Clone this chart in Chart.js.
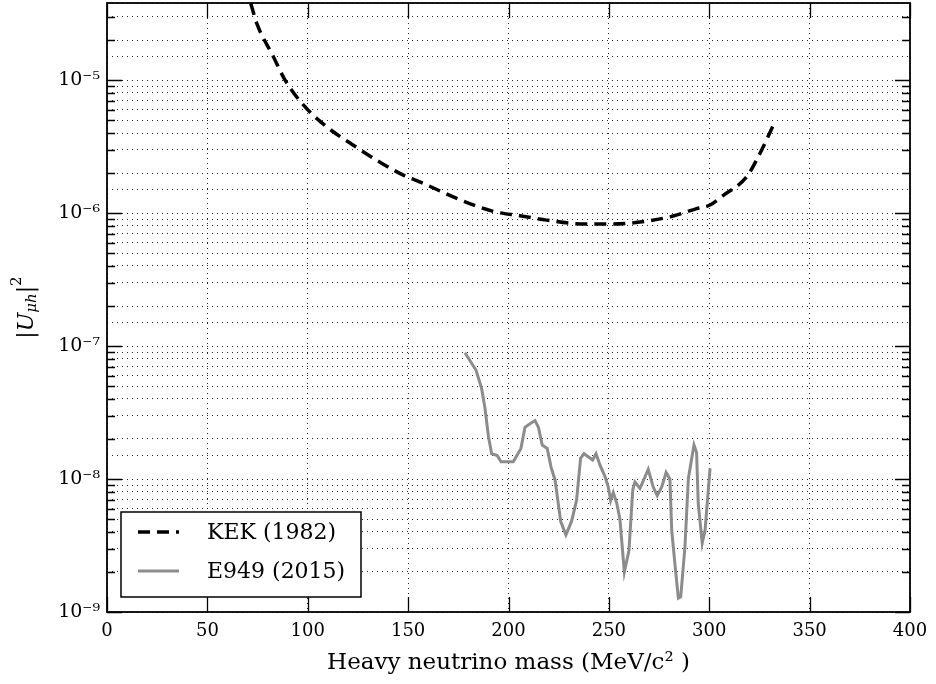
<!DOCTYPE html>
<html>
<head>
<meta charset="utf-8">
<script src="https://cdn.jsdelivr.net/npm/chart.js@4"></script>
<style>
  html, body { margin: 0; padding: 0; background: #fff; }
  #wrap { width: 936px; height: 684px; }
</style>
</head>
<body>
<div id="wrap"><canvas id="myChart"></canvas></div>
<script>
// KEK (1982) limit
const kekMass = [71.6, 74.6, 82.9, 88.7, 97.8, 109.4, 122.7, 136.8, 147.6, 157.6, 174.2, 192.4, 205.7, 219, 238.9, 252.2, 268.8, 282.1, 293.7, 300.4, 307, 318.6, 324.4, 332.3];
const kekU2 = [3.78e-5, 2.67e-5, 1.5e-5, 1.0e-5, 6.5e-6, 4.46e-6, 3.24e-6, 2.37e-6, 1.93e-6, 1.67e-6, 1.29e-6, 1.03e-6, 9.55e-7, 8.85e-7, 8.26e-7, 8.26e-7, 8.7e-7, 9.5e-7, 1.08e-6, 1.15e-6, 1.36e-6, 1.87e-6, 2.65e-6, 4.7e-6];

// E949 (2015) limit
const e949Mass = [178.3, 183.8, 186.6, 188.3, 190.0, 191.6, 194.4, 196.3, 202.4, 206.2, 208.2, 210.7, 213.2, 214.9, 216.8, 219.3, 221.2, 223.2, 226.0, 228.6, 231.4, 233.9, 235.9, 237.6, 241.9, 243.6, 245.6, 248.1, 249.7, 250.9, 252.2, 253.9, 255.5, 257.7, 260.0, 261.9, 263.0, 265.5, 269.6, 272.1, 274.1, 276.3, 278.5, 280.4, 281.3, 282.9, 284.6, 285.8, 287.9, 289.6, 292.4, 293.7, 294.5, 296.5, 297.9, 300.4];
const e949U2 = [8.9e-8, 6.6e-8, 4.8e-8, 3.4e-8, 2.1e-8, 1.55e-8, 1.5e-8, 1.35e-8, 1.35e-8, 1.7e-8, 2.45e-8, 2.6e-8, 2.75e-8, 2.45e-8, 1.8e-8, 1.7e-8, 1.23e-8, 9.8e-9, 4.8e-9, 3.8e-9, 4.8e-9, 6.9e-9, 1.43e-8, 1.55e-8, 1.39e-8, 1.55e-8, 1.27e-8, 1.04e-8, 8.7e-9, 6.9e-9, 7.9e-9, 6.6e-9, 5.0e-9, 2.0e-9, 2.9e-9, 8.3e-9, 9.5e-9, 8.5e-9, 1.18e-8, 8.7e-9, 7.5e-9, 8.7e-9, 1.12e-8, 1.0e-8, 4.1e-9, 2.3e-9, 1.27e-9, 1.3e-9, 3.1e-9, 1.01e-8, 1.8e-8, 1.58e-8, 6.6e-9, 3.3e-9, 4.1e-9, 1.2e-8];

const seriesNames = ['KEK (1982)', 'E949 (2015)'];
const xTicks = [0, 50, 100, 150, 200, 250, 300, 350, 400];
const yMin = 1e-9, yMax = 3.8e-5;
const xTitle = 'Heavy neutrino mass (MeV/c\u00b2 )';

const SERIF = '"DejaVu Serif", serif';
const supDigits = { '-': '\u207b', '0': '\u2070', '1': '\u00b9', '2': '\u00b2', '3': '\u00b3', '4': '\u2074', '5': '\u2075', '6': '\u2076', '7': '\u2077', '8': '\u2078', '9': '\u2079' };

function isDecade(v) {
    const l = Math.log10(v);
    return Math.abs(l - Math.round(l)) < 1e-6;
}
function decadeLabel(v) {
    const e = String(Math.round(Math.log10(v)));
    return '10' + e.split('').map(c => supDigits[c]).join('');
}
function toPoints(xs, ys) {
    return xs.map((x, i) => ({ x: x, y: ys[i] }));
}

// inward ticks on all four sides plus the frame
const frameTicks = {
    id: 'frameTicks',
    afterDatasetsDraw(chart) {
        const ctx = chart.ctx;
        const a = chart.chartArea;
        const xs = chart.scales.x, ys = chart.scales.y;
        ctx.save();
        ctx.strokeStyle = '#000';
        ctx.lineWidth = 1.3;
        ctx.beginPath();
        xTicks.forEach(v => {
            const px = Math.round(xs.getPixelForValue(v)) + 0.5;
            ctx.moveTo(px, a.bottom); ctx.lineTo(px, a.bottom - 15);
            ctx.moveTo(px, a.top); ctx.lineTo(px, a.top + 15);
        });
        ys.ticks.forEach(t => {
            const sig = t.value / Math.pow(10, Math.floor(Math.log10(t.value) + 1e-9));
            if (Math.abs(sig - Math.round(sig)) > 1e-6) return;
            const len = isDecade(t.value) ? 15 : 8;
            const py = Math.round(ys.getPixelForValue(t.value)) + 0.5;
            ctx.moveTo(a.left, py); ctx.lineTo(a.left + len, py);
            ctx.moveTo(a.right, py); ctx.lineTo(a.right - len, py);
        });
        ctx.stroke();
        ctx.lineWidth = 1.8;
        ctx.strokeRect(a.left, a.top, a.right - a.left, a.bottom - a.top);
        ctx.restore();
    },
    afterDraw(chart) {
        const ctx = chart.ctx;
        ctx.save();
        // legend box
        const bx = 121, by = 512, bw = 240, bh = 85;
        ctx.fillStyle = '#fff';
        ctx.fillRect(bx, by, bw, bh);
        ctx.strokeStyle = '#000';
        ctx.lineWidth = 1.5;
        ctx.strokeRect(bx, by, bw, bh);
        const ds = chart.data.datasets;
        const rows = [532, 571];
        ctx.font = '22px ' + SERIF;
        ctx.textBaseline = 'middle';
        ctx.fillStyle = '#000';
        ds.forEach((d, i) => {
            ctx.strokeStyle = d.borderColor;
            ctx.lineWidth = d.borderWidth;
            ctx.setLineDash(d.borderDash || []);
            ctx.beginPath();
            ctx.moveTo(138, rows[i]); ctx.lineTo(179, rows[i]);
            ctx.stroke();
            ctx.setLineDash([]);
            ctx.fillText(d.label, 207, rows[i] + 1);
        });

        // y axis title |U_{mu h}|^2
        const cy = (chart.chartArea.top + chart.chartArea.bottom) / 2;
        ctx.translate(27, cy);
        ctx.rotate(-Math.PI / 2);
        const parts = [
            { t: '|', f: '22px ' + SERIF, dy: 0 },
            { t: 'U', f: 'italic 22px ' + SERIF, dy: 0 },
            { t: '\u03bch', f: 'italic 15px ' + SERIF, dy: 5 },
            { t: '|', f: '22px ' + SERIF, dy: 0 },
            { t: '2', f: '15px ' + SERIF, dy: -10 }
        ];
        let total = 0;
        parts.forEach(p => { ctx.font = p.f; p.w = ctx.measureText(p.t).width; total += p.w; });
        let x = -total / 2;
        ctx.textBaseline = 'middle';
        ctx.textAlign = 'left';
        parts.forEach(p => {
            ctx.font = p.f;
            ctx.fillText(p.t, x, p.dy);
            x += p.w;
        });
        ctx.restore();
    }
};

const ctx1 = document.getElementById('myChart').getContext('2d');
const myChart = new Chart(ctx1, {
    type: 'line',
    data: {
        datasets: [{
            label: seriesNames[0],
            data: toPoints(kekMass, kekU2),
            borderColor: '#000',
            borderWidth: 3.5,
            borderDash: [12, 7],
            cubicInterpolationMode: 'monotone',
            pointRadius: 0,
            fill: false
        }, {
            label: seriesNames[1],
            data: toPoints(e949Mass, e949U2),
            borderColor: '#8c8c8c',
            borderWidth: 3,
            tension: 0,
            pointRadius: 0,
            fill: false
        }]
    },
    options: {
        responsive: true,
        maintainAspectRatio: false,
        animation: false,
        events: [],
        layout: { padding: { top: 3, right: 26, left: 0, bottom: 0 } },
        plugins: {
            legend: { display: false },
            tooltip: { enabled: false }
        },
        scales: {
            x: {
                type: 'linear',
                min: 0,
                max: 400,
                afterFit: s => { s.height = 72; s.paddingLeft = 0; s.paddingRight = 0; },
                afterBuildTicks: s => { s.ticks = xTicks.map(v => ({ value: v })); },
                grid: {
                    color: 'rgba(0,0,0,0.85)',
                    lineWidth: 1,
                    drawTicks: false
                },
                border: { display: false, dash: [1, 4] },
                ticks: {
                    color: '#000',
                    font: { family: SERIF, size: 18 },
                    padding: 9,
                    maxRotation: 0
                },
                title: {
                    display: true,
                    text: xTitle,
                    color: '#000',
                    font: { family: SERIF, size: 23 },
                    padding: { top: 0, bottom: 7 }
                }
            },
            y: {
                type: 'logarithmic',
                min: yMin,
                max: yMax,
                afterFit: s => { s.width = 107; s.paddingTop = 0; s.paddingBottom = 0; },
                grid: {
                    color: 'rgba(0,0,0,0.85)',
                    lineWidth: 1,
                    drawTicks: false
                },
                border: { display: false, dash: [1, 4] },
                ticks: {
                    color: '#000',
                    font: { family: SERIF, size: 19 },
                    padding: 7,
                    autoSkip: false,
                    callback: v => isDecade(v) ? decadeLabel(v) : ''
                }
            }
        }
    },
    plugins: [frameTicks]
});
</script>
</body>
</html>
